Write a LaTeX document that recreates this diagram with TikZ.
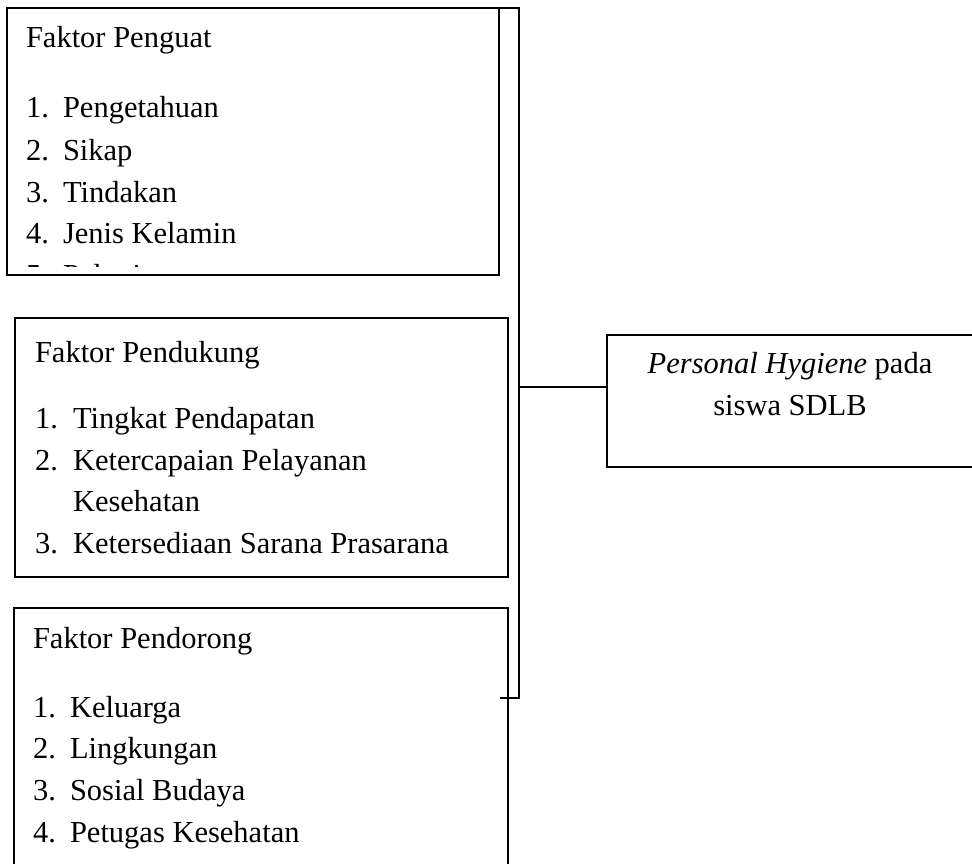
\documentclass[tikz,border=0pt]{standalone}
\usepackage{fontspec}
\setmainfont{Liberation Serif}
\begin{document}
\begin{tikzpicture}[x=1pt,y=-1pt,
  box/.style={draw,line width=1.6pt,inner sep=0pt,outer sep=0pt,anchor=north west},
  conn/.style={line width=2.2pt},
  txt/.style={anchor=base west,inner sep=0pt,outer sep=0pt,font=\fontsize{30.5}{36}\selectfont},
  ctxt/.style={anchor=base,inner sep=0pt,outer sep=0pt,font=\fontsize{30.5}{36}\selectfont}]
\useasboundingbox (0,0) rectangle (972,863);
\clip (0,0) rectangle (972,863);
\fill[white] (0,0) rectangle (972,863);
% boxes
\node[box,minimum width=492pt,minimum height=267pt] (b1) at (7,8) {};
\node[box,minimum width=493pt,minimum height=259pt] (b2) at (15,318) {};
\node[box,minimum width=494pt,minimum height=280pt] (b3) at (14,608) {};
\node[box,minimum width=370pt,minimum height=132pt] (ph) at (607,335) {};
% box 1 text
\node[txt] (h1) at (26,47) {Faktor Penguat};
\node[txt] (n11) at (26,117) {1.};  \node[txt] (t11) at (63,117) {Pengetahuan};
\node[txt] (n12) at (26,160) {2.};  \node[txt] (t12) at (63,160) {Sikap};
\node[txt] (n13) at (26,202) {3.};  \node[txt] (t13) at (63,202) {Tindakan};
\node[txt] (n14) at (26,243) {4.};  \node[txt] (t14) at (63,243) {Jenis Kelamin};
\begin{scope}
\clip (8,9) rectangle (498,266);
\node[txt] (n15) at (26,285) {5.};  \node[txt] (t15) at (63,285) {Pekerjaan};
\end{scope}
% box 2 text
\node[txt] (h2) at (35,362) {Faktor Pendukung};
\node[txt] (n21) at (35,428) {1.};  \node[txt] (t21) at (73,428) {Tingkat Pendapatan};
\node[txt] (n22) at (35,470) {2.};  \node[txt] (t22) at (73,470) {Ketercapaian Pelayanan};
\node[txt] (t22b) at (73,511) {Kesehatan};
\node[txt] (n23) at (35,553) {3.};  \node[txt] (t23) at (73,553) {Ketersediaan Sarana Prasarana};
% box 3 text
\node[txt] (h3) at (33,648) {Faktor Pendorong};
\node[txt] (n31) at (33,717) {1.};  \node[txt] (t31) at (70,717) {Keluarga};
\node[txt] (n32) at (33,758) {2.};  \node[txt] (t32) at (70,758) {Lingkungan};
\node[txt] (n33) at (33,800) {3.};  \node[txt] (t33) at (70,800) {Sosial Budaya};
\node[txt] (n34) at (33,842) {4.};  \node[txt] (t34) at (70,842) {Petugas Kesehatan};
% result box text
\node[ctxt] (p1) at (790,373) {\textit{Personal Hygiene} pada};
\node[ctxt] (p2) at (790,415) {siswa SDLB};
% connectors
\coordinate (ctl) at (483,8);
\coordinate (ctr) at (519,8);
\coordinate (cbr) at (519,698);
\coordinate (cbl) at (500,698);
\coordinate (cj) at (519,387);
\draw[conn] (ctl) -- (ctr) -- (cbr) -- (cbl);
\draw[conn] (cj) -- (cj -| ph.west);
\end{tikzpicture}
\end{document}
